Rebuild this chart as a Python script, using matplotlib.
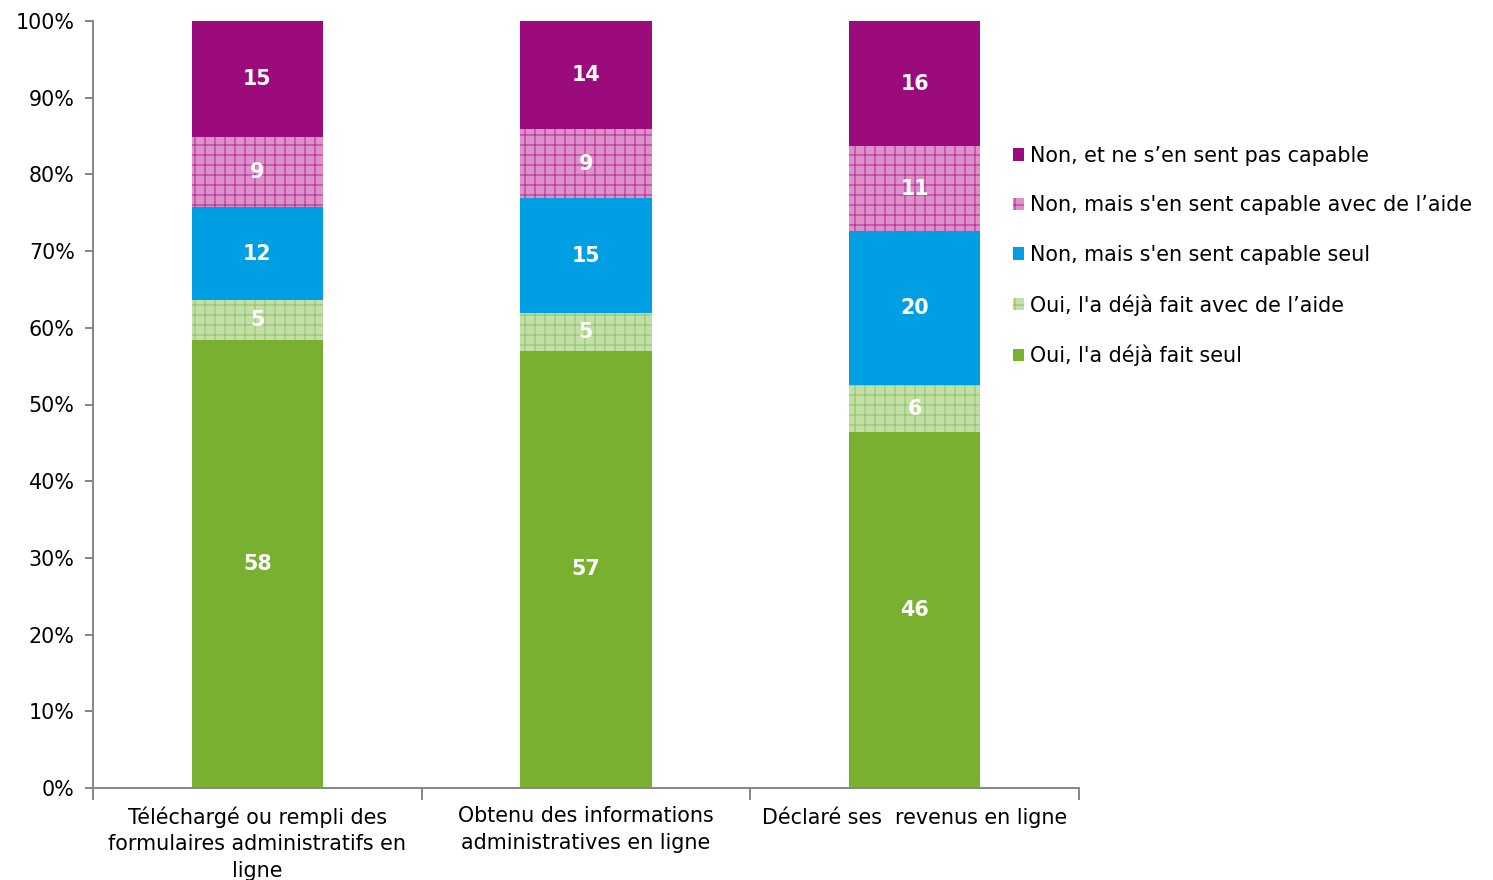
import numpy as np
import matplotlib
matplotlib.use('Agg')
import matplotlib.pyplot as plt
from matplotlib.ticker import PercentFormatter

# data (percent of respondents)
categories = ['Téléchargé ou rempli des\nformulaires administratifs en\nligne',
              'Obtenu des informations\nadministratives en ligne',
              'Déclaré ses  revenus en ligne']
series_names = ["Oui, l'a déjà fait seul",
                "Oui, l'a déjà fait avec de l\u2019aide",
                "Non, mais s'en sent capable seul",
                "Non, mais s'en sent capable avec de l\u2019aide",
                "Non, et ne s\u2019en sent pas capable"]
oui_seul = [58.4, 57.0, 46.4]
oui_aide = [5.2, 4.9, 6.1]
non_seul = [12.1, 15.0, 20.1]
non_aide = [9.2, 9.0, 11.1]
non_pas = [15.1, 14.1, 16.3]
labels = [[58, 57, 46], [5, 5, 6], [12, 15, 20], [9, 9, 11], [15, 14, 16]]

colors = ['#7AB030', '#C2DFA8', '#009FE3', '#DE90CC', '#9B0B7C']
hatch_cols = [None, '#97C66E', None, '#B43A93', None]

plt.rcParams['hatch.linewidth'] = 0.7
fs = 12.4

fig = plt.figure(figsize=(1493 / 120, 880 / 120), dpi=120)
ax = fig.add_axes([93 / 1493, 92 / 880, (1079 - 93) / 1493, (788 - 21) / 880])

x = np.arange(len(categories))
bottom = np.zeros(len(categories))
handles = []
for i, vals in enumerate([oui_seul, oui_aide, non_seul, non_aide, non_pas]):
    vals = np.array(vals)
    if hatch_cols[i]:
        b = ax.bar(x, vals, 0.4, bottom=bottom, color=colors[i], edgecolor=hatch_cols[i],
                   linewidth=0, hatch='++', label=series_names[i])
    else:
        b = ax.bar(x, vals, 0.4, bottom=bottom, color=colors[i], linewidth=0,
                   label=series_names[i])
    handles.append(b)
    for j in range(len(x)):
        ax.text(x[j], bottom[j] + vals[j] / 2, str(labels[i][j]), ha='center', va='center',
                color='white', fontweight='bold', fontsize=fs)
    bottom += vals

ax.set_xlim(-0.5, 2.5)
ax.set_ylim(0, 100)
ax.set_yticks(np.arange(0, 101, 10))
ax.yaxis.set_major_formatter(PercentFormatter(decimals=0))
ax.tick_params(axis='y', labelsize=fs, length=5, color='#888888', width=1.2, pad=6)

ax.set_xticks([-0.5, 0.5, 1.5, 2.5])
ax.set_xticklabels([])
ax.set_xticks(x, minor=True)
ax.set_xticklabels(categories, minor=True, fontsize=fs, linespacing=1.4)
ax.tick_params(axis='x', which='major', length=7, color='#888888', width=1.2)
ax.tick_params(axis='x', which='minor', length=0, pad=11)

for s in ['top', 'right']:
    ax.spines[s].set_visible(False)
for s in ['left', 'bottom']:
    ax.spines[s].set_color('#888888')
    ax.spines[s].set_linewidth(1.2)

fig.legend(handles[::-1], series_names[::-1], loc='upper left',
           bbox_to_anchor=(1013 / 1493, 1 - 146 / 880), frameon=False, fontsize=fs,
           handlelength=0.55, handleheight=0.55, handletextpad=0.25, labelspacing=1.42,
           borderaxespad=0, borderpad=0)

fig.savefig('out.png', dpi=120)
